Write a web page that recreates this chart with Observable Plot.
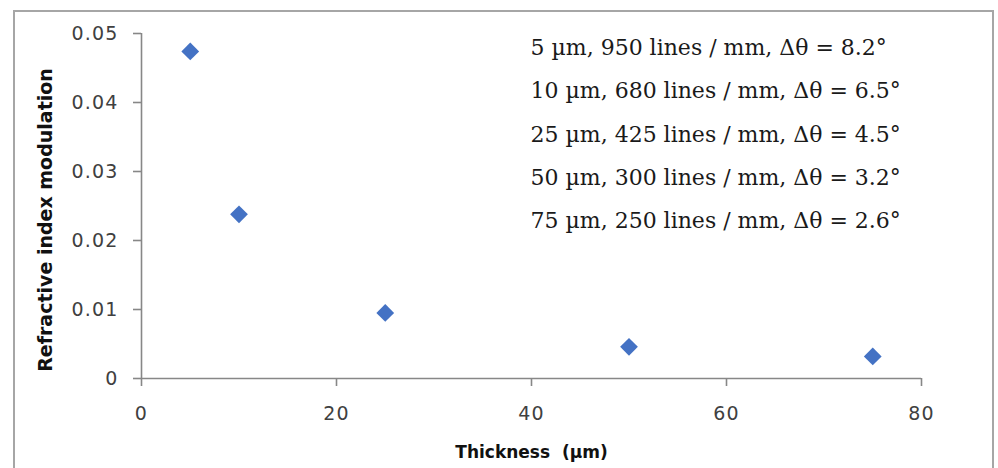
<!DOCTYPE html>
<html>
<head>
<meta charset="utf-8">
<script src="https://cdn.jsdelivr.net/npm/d3@7"></script>
<script src="https://cdn.jsdelivr.net/npm/@observablehq/plot@0.6"></script>
<style>
  html, body { margin: 0; padding: 0; background: #fff; }
  #wrap { position: relative; width: 998px; height: 468px; overflow: hidden; }
  #border { position: absolute; left: 13px; top: 10px; width: 981px; height: 500px; border: 2px solid #a6a6a6; box-sizing: border-box; }
  #chart { position: absolute; left: 0; top: 0; }
  #chart g[aria-label="y-axis tick label"] text,
  #chart g[aria-label="x-axis tick label"] text { font-family: "DejaVu Sans", sans-serif; font-size: 19px; fill: #404040; letter-spacing: 1.2px; }
  #chart g[aria-label="y-axis tick"] path,
  #chart g[aria-label="x-axis tick"] path { stroke: #878787; stroke-width: 1.6px; stroke-opacity: 1; }
</style>
</head>
<body>
<div id="wrap"><div id="border"></div><div id="chart"></div></div>
<script>
const thickness = [5, 10, 25, 50, 75];
const modulation = [0.0474, 0.0238, 0.0095, 0.0046, 0.0032];
const xTicks = [0, 20, 40, 60, 80];
const xTickLabels = ["0", "20", "40", "60", "80"];
const yTicks = [0, 0.01, 0.02, 0.03, 0.04, 0.05];
const yTickLabels = ["0", "0.01", "0.02", "0.03", "0.04", "0.05"];
const annotationLines = [
  "5 µm, 950 lines / mm, Δθ = 8.2°",
  "10 µm, 680 lines / mm, Δθ = 6.5°",
  "25 µm, 425 lines / mm, Δθ = 4.5°",
  "50 µm, 300 lines / mm, Δθ = 3.2°",
  "75 µm, 250 lines / mm, Δθ = 2.6°"
];
const xLabel = "Thickness  (µm)";
const yLabel = "Refractive index modulation";

const data = thickness.map((t, i) => ({t, m: modulation[i]}));

const chart = Plot.plot({
  width: 998,
  height: 468,
  marginLeft: 141,
  marginRight: 77,
  marginTop: 33,
  marginBottom: 90,
  style: {background: "transparent", overflow: "visible"},
  x: {domain: [0, 80]},
  y: {domain: [0, 0.05]},
  marks: [
    Plot.axisX({ticks: xTicks, tickFormat: (d) => xTickLabels[xTicks.indexOf(d)], tickSize: 8, tickPadding: 20, label: null}),
    Plot.axisY({ticks: yTicks, tickFormat: (d) => yTickLabels[yTicks.indexOf(d)], tickSize: 8, tickPadding: 15, label: null}),
    Plot.ruleY([0], {stroke: "#878787", strokeWidth: 1.6}),
    Plot.ruleX([0], {stroke: "#878787", strokeWidth: 1.6}),
    Plot.dot(data, {x: "t", y: "m", symbol: "diamond2", r: 8, fill: "#4472C4", stroke: "none"}),
    Plot.text([annotationLines.join("\n")], {
      text: d => d, frameAnchor: "top-left", dx: 389, dy: -9,
      textAnchor: "start", lineAnchor: "top", lineHeight: 43.2 / 22,
      fontFamily: "DejaVu Serif", fontSize: 22, fill: "#1a1a1a"
    }),
    Plot.text([xLabel], {
      text: d => d, frameAnchor: "bottom", dy: 74, lineAnchor: "middle", textAnchor: "middle",
      fontFamily: "DejaVu Sans", fontWeight: "bold", fontSize: 17, fill: "#111"
    }),
    Plot.text([yLabel], {
      text: d => d, frameAnchor: "left", dx: -96, dy: 14, rotate: -90, lineAnchor: "middle", textAnchor: "middle",
      fontFamily: "DejaVu Sans", fontWeight: "bold", fontSize: 19, fill: "#111"
    })
  ]
});
chart.querySelectorAll("text").forEach(t => t.setAttribute("xml:space", "preserve"));
document.getElementById("chart").appendChild(chart);
</script>
</body>
</html>
